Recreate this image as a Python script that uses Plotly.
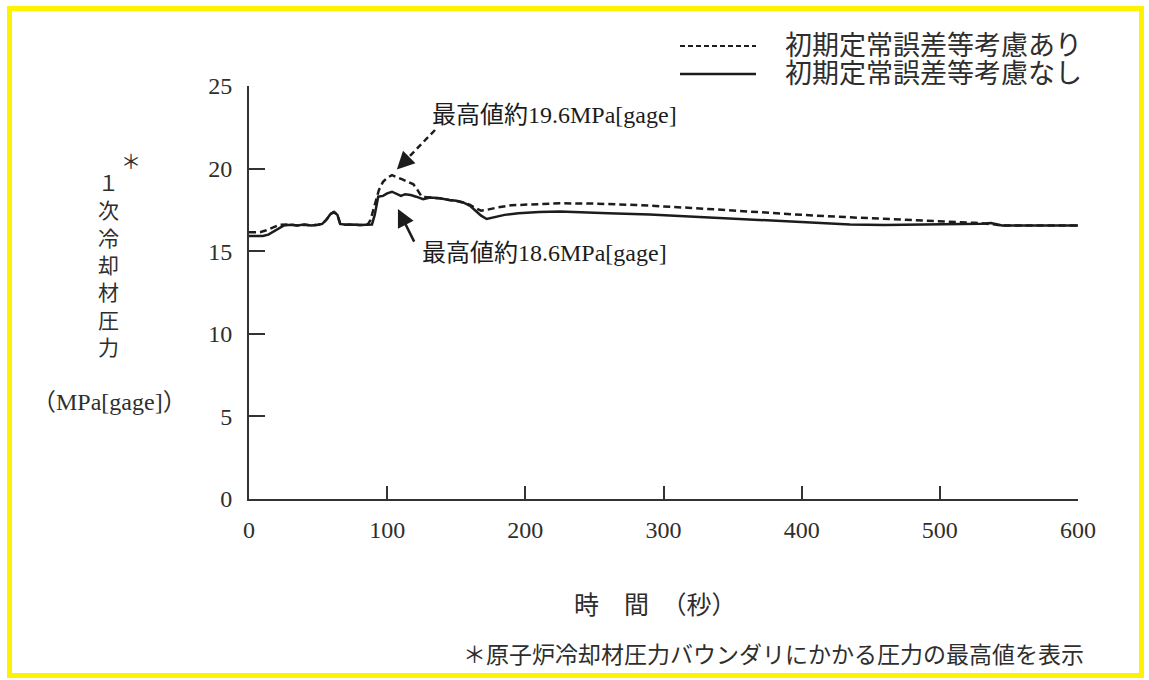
import plotly.graph_objects as go

# Series: primary coolant pressure (MPa[gage]) versus time (s)
label_ari = "初期定常誤差等考慮あり"
label_nashi = "初期定常誤差等考慮なし"

time_ari = [0, 8, 12, 17, 22, 30, 35, 40, 45, 50, 53, 56, 59, 61.5, 64, 66, 70, 75, 80, 86,
            88, 91, 94, 97, 100, 103.5, 107, 111, 115, 119, 122, 125, 131, 138, 145, 150,
            155, 160, 164, 168, 172, 180, 190, 205, 225, 250, 280, 320, 365, 400, 435, 470,
            500, 525, 540, 545, 600]
pressure_ari = [16.15, 16.15, 16.25, 16.45, 16.6, 16.62, 16.55, 16.6, 16.56, 16.6, 16.65, 16.9,
                17.25, 17.37, 17.2, 16.65, 16.6, 16.62, 16.58, 16.62,
                16.9, 17.8, 18.7, 19.2, 19.45, 19.6, 19.5, 19.35, 19.2, 19.05, 18.7, 18.3,
                18.25, 18.2, 18.1, 18.05, 17.95, 17.8, 17.6, 17.45, 17.5, 17.65, 17.78,
                17.85, 17.9, 17.88, 17.8, 17.62, 17.37, 17.2, 17.05, 16.92, 16.82, 16.72,
                16.62, 16.55, 16.55]

time_nashi = [0, 10, 14, 20, 25, 30, 35, 40, 45, 50, 53, 56, 59, 61.5, 64, 66, 70, 75, 80, 85,
              89, 91, 93.5, 97, 100, 103.5, 107, 110, 113, 117, 121, 126, 131, 138, 145, 150,
              155, 160, 164, 168, 172, 178, 185, 195, 210, 225, 240, 260, 290, 325, 365, 400,
              435, 460, 485, 510, 530, 537, 541, 545, 560, 600]
pressure_nashi = [15.92, 15.92, 16.0, 16.3, 16.55, 16.6, 16.55, 16.62, 16.55, 16.6, 16.65, 16.9,
                  17.25, 17.37, 17.2, 16.65, 16.6, 16.62, 16.58, 16.6,
                  16.62, 17.2, 18.3, 18.35, 18.5, 18.6, 18.45, 18.35, 18.45, 18.4, 18.3, 18.15,
                  18.25, 18.2, 18.1, 18.05, 17.95, 17.75, 17.45, 17.15, 16.95, 17.05, 17.2,
                  17.3, 17.38, 17.4, 17.37, 17.3, 17.22, 17.08, 16.9, 16.75, 16.62, 16.58,
                  16.6, 16.63, 16.66, 16.7, 16.62, 16.55, 16.55, 16.55]

x_ticks = [0, 100, 200, 300, 400, 500, 600]
y_ticks = [0, 5, 10, 15, 20, 25]

FONT = "Liberation Serif, Noto Sans CJK JP, serif"
INK = "#1c1c1c"
TEXT = "#2e2e2e"

# figure geometry (pixels)
W, H = 1149, 680
ML, MR, MT, MB = 249, 71, 86, 181
PW, PH = W - ML - MR, H - MT - MB


def px(x):
    return (x - ML) / PW


def py(y):
    return (H - MB - y) / PH


fig = go.Figure()
fig.add_trace(go.Scatter(x=time_ari, y=pressure_ari, mode="lines", name=label_ari,
                         line=dict(color=INK, width=2.5, dash="7px,4px")))
fig.add_trace(go.Scatter(x=time_nashi, y=pressure_nashi, mode="lines", name=label_nashi,
                         line=dict(color=INK, width=2.5)))

peak_ari = max(pressure_ari)
peak_nashi = max(pressure_nashi)

shapes = [
    # outer frame
    dict(type="rect", xref="paper", yref="paper", x0=px(9.5), x1=px(1141.5), y0=py(8.5), y1=py(675.5),
         line=dict(color="#FFF200", width=5), layer="above"),
    # legend samples
    dict(type="line", xref="paper", yref="paper", x0=px(680), x1=px(756), y0=py(46), y1=py(46),
         line=dict(color=INK, width=2, dash="5px,3px")),
    dict(type="line", xref="paper", yref="paper", x0=px(680), x1=px(756), y0=py(74), y1=py(74),
         line=dict(color=INK, width=2.5)),
    # dashed leader to peak (with consideration)
    dict(type="line", xref="paper", yref="paper", x0=px(435), x1=px(405), y0=py(130), y1=py(161),
         line=dict(color=INK, width=2.5, dash="6px,4px")),
]

annotations = [
    # legend labels
    dict(xref="paper", yref="paper", x=px(783), y=py(46), text=label_ari, showarrow=False,
         xanchor="left", yanchor="middle", font=dict(family=FONT, size=27, color=TEXT)),
    dict(xref="paper", yref="paper", x=px(783), y=py(74), text=label_nashi, showarrow=False,
         xanchor="left", yanchor="middle", font=dict(family=FONT, size=27, color=TEXT)),
    # peak labels
    dict(x=131, y=23.25, text=f"最高値約{peak_ari:.1f}MPa[gage]", showarrow=False,
         xanchor="left", yanchor="middle", font=dict(family=FONT, size=24, color=INK)),
    dict(x=123.5, y=14.9, text=f"最高値約{peak_nashi:.1f}MPa[gage]", showarrow=False,
         xanchor="left", yanchor="middle", font=dict(family=FONT, size=24, color=INK)),
    # arrow heads
    dict(x=107, y=19.95, ax=13, ay=-13, text="", showarrow=True, arrowhead=2, arrowsize=1.4,
         arrowwidth=2.5, arrowcolor=INK),
    dict(x=107.8, y=17.55, ax=17, ay=34, text="", showarrow=True, arrowhead=2, arrowsize=1.4,
         arrowwidth=2.5, arrowcolor=INK),
    # axis titles
    dict(xref="paper", yref="paper", x=px(655), y=py(605), text="時　間　（秒）", showarrow=False,
         xanchor="center", yanchor="middle", font=dict(family=FONT, size=25, color=TEXT)),
    dict(xref="paper", yref="paper", x=px(131), y=py(162), text="＊", showarrow=False,
         xanchor="center", yanchor="middle", font=dict(family=FONT, size=20, color=TEXT)),
    dict(xref="paper", yref="paper", x=px(108), y=py(266), text="１<br>次<br>冷<br>却<br>材<br>圧<br>力",
         showarrow=False, xanchor="center", yanchor="middle",
         font=dict(family=FONT, size=21, color=TEXT)),
    dict(xref="paper", yref="paper", x=px(109), y=py(402), text="（MPa[gage]）", showarrow=False,
         xanchor="center", yanchor="middle", font=dict(family=FONT, size=24, color=TEXT)),
    # footnote
    dict(xref="paper", yref="paper", x=px(1086), y=py(655),
         text="＊原子炉冷却材圧力バウンダリにかかる圧力の最高値を表示", showarrow=False,
         xanchor="right", yanchor="middle", font=dict(family=FONT, size=23, color=TEXT)),
]

fig.update_layout(
    width=W, height=H,
    margin=dict(l=ML, r=MR, t=MT, b=MB),
    paper_bgcolor="white", plot_bgcolor="white",
    showlegend=False,
    shapes=shapes,
    annotations=annotations,
    font=dict(family=FONT, color=TEXT),
)
fig.update_xaxes(range=[0, 600], tickvals=x_ticks, ticks="inside", ticklen=13, tickwidth=2,
                 tickcolor="#333", showline=True, linecolor="#333", linewidth=2, showgrid=False,
                 zeroline=False, tickfont=dict(family=FONT, size=24, color=TEXT),
                 ticklabelstandoff=8)
fig.update_yaxes(range=[0, 25], tickvals=y_ticks, ticks="inside", ticklen=16, tickwidth=2,
                 tickcolor="#333", showline=True, linecolor="#333", linewidth=2, showgrid=False,
                 zeroline=False, tickfont=dict(family=FONT, size=24, color=TEXT),
                 ticklabelstandoff=10)

fig.write_html("out.html")
